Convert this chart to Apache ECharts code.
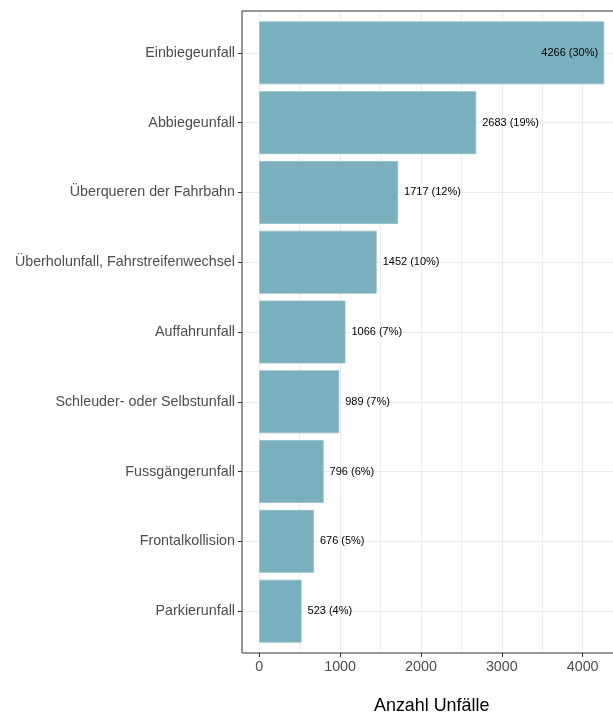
<!DOCTYPE html>
<html>
<head>
<meta charset="utf-8">
<script src="https://cdn.jsdelivr.net/npm/echarts@6/dist/echarts.min.js"></script>
<style>html,body{margin:0;padding:0;background:#fff;overflow:hidden}#c{width:660px;height:713px}</style>
</head>
<body>
<div id="c"></div>
<script>
const categories = ["Einbiegeunfall","Abbiegeunfall","Überqueren der Fahrbahn","Überholunfall, Fahrstreifenwechsel","Auffahrunfall","Schleuder- oder Selbstunfall","Fussgängerunfall","Frontalkollision","Parkierunfall"];
const values = [4266, 2683, 1717, 1452, 1066, 989, 796, 676, 523];
const shares = ["30%", "19%", "12%", "10%", "7%", "7%", "6%", "5%", "4%"];
const xTicks = [0, 1000, 2000, 3000, 4000];

const FONT = "Liberation Sans, Arial, Helvetica, sans-serif";
const panel = {left: 242, top: 11, width: 379.4, height: 642};
const n = categories.length;
const vmax = Math.max(...values);
const xMin = -0.05 * vmax, xMax = vmax * 1.05;
const step = panel.height / (n - 1 + 1.2);
const gridATop = panel.top + 0.6 * step;
const gridAH = (n - 1) * step;
const gridBLeft = panel.left + (0 - xMin) / (xMax - xMin) * panel.width;
const gridBW = panel.left + panel.width - gridBLeft;

const chart = echarts.init(document.getElementById('c'), null, {renderer: 'canvas'});
chart.setOption({
  animation: false,
  backgroundColor: '#fff',
  textStyle: {fontFamily: FONT},
  grid: [
    {left: panel.left, width: panel.width, top: gridATop, height: gridAH, containLabel: false, outerBoundsMode: 'none'},
    {left: gridBLeft, width: gridBW, top: panel.top, height: panel.height, containLabel: false, outerBoundsMode: 'none'},
    {left: panel.left, width: panel.width, top: panel.top, height: panel.height, containLabel: false, outerBoundsMode: 'none',
     show: true, borderColor: '#333333', borderWidth: 1, backgroundColor: 'transparent', z: 5}
  ],
  xAxis: [
    {gridIndex: 0, type: 'value', min: xMin, max: xMax, show: false},
    {gridIndex: 1, type: 'value', min: 0, max: xMax, interval: 1000,
     axisLine: {show: false, onZero: false},
     axisTick: {show: true, length: 4, lineStyle: {color: '#333333', width: 1}},
     axisLabel: {color: '#4D4D4D', fontSize: 14.3, fontFamily: FONT, margin: 7, showMaxLabel: false,
                 formatter: v => xTicks.includes(v) ? String(v) : ''},
     splitLine: {show: true, lineStyle: {color: '#EBEBEB', width: 1}},
     minorTick: {show: false, splitNumber: 2},
     minorSplitLine: {show: true, lineStyle: {color: '#EEEEEE', width: 1}}
    },
    {gridIndex: 2, type: 'value', min: 0, max: 1,
     axisLine: {show: false, onZero: false}, axisTick: {show: false}, axisLabel: {show: false}, splitLine: {show: false},
     name: 'Anzahl Unfälle', nameLocation: 'middle', nameGap: 44,
     nameTextStyle: {color: '#000', fontSize: 17.9, fontFamily: FONT}
    }
  ],
  yAxis: [
    {gridIndex: 0, type: 'category', data: categories, inverse: true, boundaryGap: false,
     axisLine: {show: false, onZero: false},
     axisTick: {show: true, length: 4, lineStyle: {color: '#333333', width: 1}},
     axisLabel: {color: '#4D4D4D', fontSize: 14.3, fontFamily: FONT, margin: 7},
     splitLine: {show: true, lineStyle: {color: '#EBEBEB', width: 1}}
    },
    {gridIndex: 1, type: 'value', min: 0, max: 1, show: false, axisLine: {onZero: false}},
    {gridIndex: 2, type: 'value', min: 0, max: 1, show: false, axisLine: {onZero: false}}
  ],
  series: [{
    type: 'bar',
    xAxisIndex: 0, yAxisIndex: 0,
    clip: false,
    barWidth: step * 0.9,
    itemStyle: {color: '#7AB0BD', borderColor: '#8FBDC8', borderWidth: 0.8},
    z: 3,
    data: values.map((v, i) => ({
      value: v,
      label: {show: true, position: i === 0 ? 'insideRight' : 'right', distance: 6,
              formatter: v + ' (' + shares[i] + ')',
              color: '#000', fontSize: 11, fontFamily: FONT}
    }))
  }]
});
</script>
</body>
</html>
